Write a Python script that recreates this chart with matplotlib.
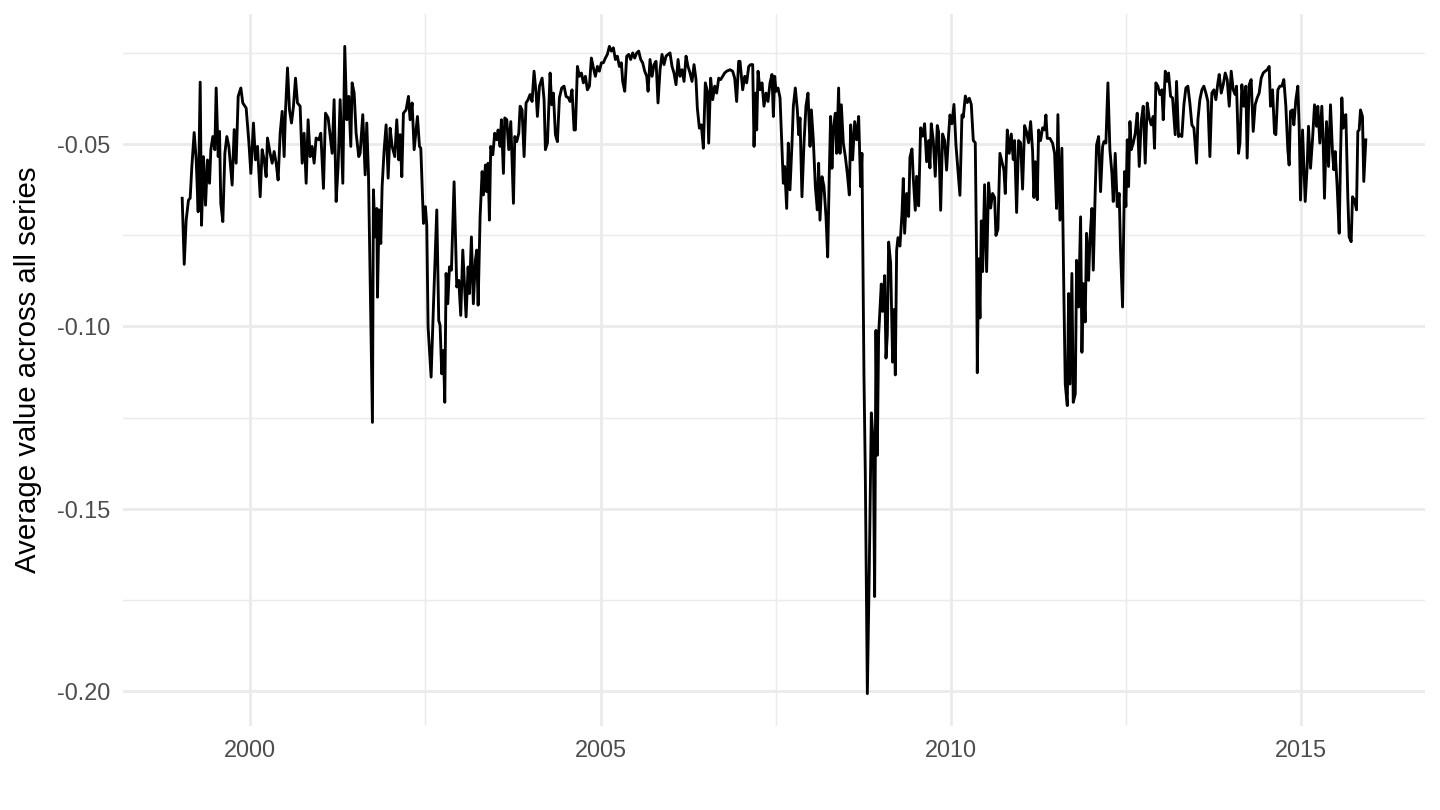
import matplotlib
matplotlib.use("Agg")
import matplotlib.pyplot as plt
from matplotlib.ticker import FixedLocator, FuncFormatter
import numpy as np

# decimal year of each observation
dates = [
    1999.030, 1999.059, 1999.087, 1999.120, 1999.144, 1999.168, 1999.201, 1999.230, 1999.258, 1999.287,
    1999.306, 1999.334, 1999.363, 1999.391, 1999.420, 1999.439, 1999.467, 1999.496, 1999.515, 1999.544,
    1999.563, 1999.581, 1999.610, 1999.639, 1999.667, 1999.696, 1999.743, 1999.772, 1999.800, 1999.829,
    1999.867, 1999.895, 1999.943, 1999.981, 2000.010, 2000.047, 2000.076, 2000.105, 2000.143, 2000.171,
    2000.200, 2000.228, 2000.247, 2000.285, 2000.314, 2000.342, 2000.371, 2000.399, 2000.428, 2000.457,
    2000.485, 2000.504, 2000.533, 2000.561, 2000.590, 2000.618, 2000.647, 2000.675, 2000.713, 2000.742,
    2000.770, 2000.799, 2000.827, 2000.856, 2000.884, 2000.913, 2000.941, 2000.979, 2001.008, 2001.046,
    2001.075, 2001.113, 2001.170, 2001.198, 2001.227, 2001.255, 2001.284, 2001.322, 2001.350, 2001.379,
    2001.407, 2001.436, 2001.455, 2001.484, 2001.512, 2001.550,
    2001.569, 2001.607, 2001.641, 2001.664, 2001.688, 2001.745, 2001.759, 2001.783, 2001.807, 2001.817,
    2001.840, 2001.864, 2001.883, 2001.912, 2001.940, 2001.969, 2001.997, 2002.026, 2002.064, 2002.092,
    2002.121, 2002.140, 2002.164, 2002.187, 2002.225, 2002.259, 2002.282, 2002.311, 2002.340, 2002.359,
    2002.387, 2002.416, 2002.435, 2002.473, 2002.501, 2002.520, 2002.539, 2002.582, 2002.615, 2002.663,
    2002.691, 2002.710, 2002.734, 2002.758, 2002.777, 2002.796, 2002.820, 2002.844, 2002.872, 2002.910,
    2002.948, 2002.977, 2003.005, 2003.034, 2003.081, 2003.110, 2003.129, 2003.157, 2003.185, 2003.214,
    2003.233, 2003.253, 2003.281, 2003.310, 2003.329, 2003.357, 2003.376, 2003.395, 2003.414, 2003.433,
    2003.462, 2003.490, 2003.519, 2003.538, 2003.566, 2003.585, 2003.614, 2003.633, 2003.662, 2003.690,
    2003.719, 2003.757, 2003.776, 2003.804, 2003.833, 2003.852, 2003.880, 2003.909, 2003.937, 2003.966,
    2003.994, 2004.023, 2004.051, 2004.080, 2004.099, 2004.128, 2004.166, 2004.194, 2004.213, 2004.242,
    2004.280,
    2004.303, 2004.327, 2004.356, 2004.384, 2004.413, 2004.446, 2004.479, 2004.508, 2004.541, 2004.565,
    2004.593, 2004.622, 2004.641, 2004.670, 2004.698, 2004.727, 2004.755, 2004.784, 2004.812, 2004.841,
    2004.869, 2004.898, 2004.926, 2004.955, 2004.983, 2005.012, 2005.040, 2005.069, 2005.097, 2005.126,
    2005.155, 2005.183, 2005.212, 2005.240, 2005.269, 2005.297, 2005.316, 2005.345, 2005.373, 2005.402,
    2005.430, 2005.459, 2005.487, 2005.516, 2005.544, 2005.573, 2005.601, 2005.630, 2005.659, 2005.678,
    2005.706, 2005.735, 2005.763, 2005.792, 2005.820, 2005.849, 2005.877, 2005.906, 2005.934, 2005.963,
    2005.991, 2006.020, 2006.048, 2006.077, 2006.106, 2006.134, 2006.163, 2006.191, 2006.220, 2006.248,
    2006.277, 2006.305, 2006.334, 2006.362, 2006.381, 2006.410, 2006.438, 2006.467, 2006.495, 2006.524,
    2006.543, 2006.571, 2006.600, 2006.629, 2006.657, 2006.686, 2006.714, 2006.743, 2006.771, 2006.800,
    2006.847, 2006.885, 2006.914, 2006.942, 2006.971,
    2006.990, 2007.028, 2007.057, 2007.085, 2007.114, 2007.142, 2007.171, 2007.190, 2007.209, 2007.228,
    2007.247, 2007.275, 2007.304, 2007.332, 2007.361, 2007.389, 2007.418, 2007.446, 2007.466, 2007.485,
    2007.504, 2007.532, 2007.561, 2007.589, 2007.608, 2007.627, 2007.656, 2007.679, 2007.703, 2007.732,
    2007.751, 2007.779, 2007.808, 2007.827, 2007.846, 2007.874, 2007.903, 2007.931, 2007.960, 2007.989,
    2008.008, 2008.036, 2008.065, 2008.093, 2008.112, 2008.131, 2008.160, 2008.188, 2008.217, 2008.241,
    2008.264, 2008.283, 2008.302, 2008.321, 2008.350, 2008.369, 2008.397, 2008.417, 2008.436, 2008.464,
    2008.493, 2008.521, 2008.550, 2008.569, 2008.597, 2008.626, 2008.654, 2008.683, 2008.711, 2008.730,
    2008.759, 2008.778, 2008.807, 2008.835, 2008.864, 2008.892, 2008.911, 2008.930, 2008.949, 2008.968,
    2008.987, 2009.006, 2009.025, 2009.054, 2009.073, 2009.092, 2009.111, 2009.139, 2009.168, 2009.187,
    2009.206, 2009.225, 2009.244, 2009.272, 2009.301, 2009.320, 2009.339, 2009.368, 2009.396, 2009.415,
    2009.444, 2009.463, 2009.491, 2009.510, 2009.539, 2009.567, 2009.596, 2009.624, 2009.653, 2009.681,
    2009.700, 2009.719, 2009.748, 2009.776, 2009.805, 2009.824, 2009.853, 2009.881, 2009.910, 2009.938,
    2009.967, 2009.986, 2010.014, 2010.043, 2010.071, 2010.100, 2010.128, 2010.157, 2010.176, 2010.205,
    2010.233, 2010.262, 2010.290, 2010.319, 2010.347, 2010.366, 2010.376, 2010.395, 2010.414, 2010.433,
    2010.452, 2010.480, 2010.509, 2010.537, 2010.566, 2010.594, 2010.623, 2010.642, 2010.670, 2010.699,
    2010.728, 2010.756, 2010.775, 2010.804, 2010.832, 2010.861, 2010.889, 2010.908, 2010.937, 2010.965,
    2010.994, 2011.022, 2011.051, 2011.080, 2011.108, 2011.137, 2011.165, 2011.184, 2011.203, 2011.232,
    2011.251, 2011.279, 2011.308, 2011.336, 2011.355, 2011.374, 2011.412,
    2011.450, 2011.479, 2011.507, 2011.526, 2011.555, 2011.583, 2011.612, 2011.631, 2011.660, 2011.679,
    2011.698, 2011.726, 2011.745, 2011.774, 2011.793, 2011.821, 2011.850, 2011.869, 2011.888, 2011.916,
    2011.935, 2011.964, 2011.983, 2012.011, 2012.031, 2012.059, 2012.078, 2012.107, 2012.135, 2012.164,
    2012.183, 2012.211, 2012.240, 2012.268, 2012.297, 2012.316, 2012.344, 2012.373, 2012.401, 2012.420,
    2012.449, 2012.477, 2012.496, 2012.516, 2012.535, 2012.554, 2012.573, 2012.601, 2012.630, 2012.658,
    2012.687, 2012.715, 2012.744, 2012.772, 2012.801, 2012.829, 2012.858, 2012.886, 2012.905, 2012.924,
    2012.953, 2012.982, 2013.010, 2013.029, 2013.058, 2013.086, 2013.105, 2013.134, 2013.162, 2013.200,
    2013.219, 2013.248, 2013.267, 2013.295, 2013.324, 2013.352, 2013.381, 2013.409, 2013.438, 2013.467,
    2013.505, 2013.524, 2013.552, 2013.581, 2013.609, 2013.638, 2013.666, 2013.695, 2013.723, 2013.752,
    2013.780, 2013.809, 2013.828, 2013.857, 2013.885, 2013.914, 2013.942, 2013.971, 2013.999, 2014.028,
    2014.056, 2014.075, 2014.104,
    2014.123, 2014.151, 2014.180, 2014.208, 2014.227, 2014.256, 2014.284, 2014.313, 2014.341, 2014.370,
    2014.398, 2014.427, 2014.456, 2014.484, 2014.513, 2014.541, 2014.560, 2014.589, 2014.617, 2014.636,
    2014.665, 2014.693, 2014.722, 2014.750, 2014.779, 2014.807, 2014.826, 2014.845, 2014.874, 2014.893,
    2014.922, 2014.950, 2014.969, 2014.988, 2015.017, 2015.055, 2015.083, 2015.102, 2015.131, 2015.159,
    2015.188, 2015.216, 2015.235, 2015.264, 2015.292, 2015.311, 2015.330, 2015.359, 2015.388, 2015.416,
    2015.445, 2015.464, 2015.483, 2015.511, 2015.540, 2015.559, 2015.578, 2015.597, 2015.616, 2015.635,
    2015.663, 2015.682, 2015.711, 2015.730, 2015.758, 2015.787, 2015.806, 2015.825, 2015.844, 2015.872,
    2015.891, 2015.920,
]

# average value across all series
values = [
    -0.0649, -0.0830, -0.0709, -0.0654, -0.0649, -0.0562, -0.0469, -0.0544, -0.0686, -0.0331,
    -0.0723, -0.0535, -0.0668, -0.0544, -0.0608, -0.0516, -0.0480, -0.0516, -0.0347, -0.0535,
    -0.0466, -0.0663, -0.0713, -0.0526, -0.0480, -0.0507, -0.0613, -0.0461, -0.0553, -0.0370,
    -0.0347, -0.0388, -0.0402, -0.0494, -0.0581, -0.0443, -0.0544, -0.0507, -0.0645, -0.0516,
    -0.0544, -0.0590, -0.0484, -0.0526, -0.0553, -0.0521, -0.0553, -0.0599, -0.0471, -0.0411,
    -0.0535, -0.0411, -0.0292, -0.0407, -0.0443, -0.0397, -0.0320, -0.0388, -0.0397, -0.0553,
    -0.0471, -0.0608, -0.0434, -0.0535, -0.0507, -0.0553, -0.0484, -0.0489, -0.0471, -0.0622,
    -0.0416, -0.0429, -0.0526, -0.0379, -0.0658, -0.0562, -0.0379, -0.0608, -0.0233, -0.0434,
    -0.0370, -0.0507, -0.0333, -0.0361, -0.0471, -0.0535,
    -0.0526, -0.0420, -0.0585, -0.0443, -0.0581, -0.1263, -0.0626, -0.0755, -0.0677, -0.0920,
    -0.0681, -0.0773, -0.0617, -0.0516, -0.0448, -0.0594, -0.0457, -0.0507, -0.0535, -0.0434,
    -0.0544, -0.0475, -0.0590, -0.0416, -0.0407, -0.0370, -0.0434, -0.0388, -0.0516, -0.0480,
    -0.0425, -0.0507, -0.0512, -0.0718, -0.0672, -0.0723, -0.1002, -0.1139, -0.0947, -0.0681,
    -0.0984, -0.0997, -0.1130, -0.1066, -0.1208, -0.0855, -0.0938, -0.0837, -0.0846, -0.0604,
    -0.0892, -0.0874, -0.0970, -0.0791, -0.0974, -0.0837, -0.0910, -0.0755, -0.0938, -0.0819,
    -0.0791, -0.0942, -0.0700, -0.0576, -0.0640, -0.0558, -0.0631, -0.0553, -0.0709, -0.0507,
    -0.0530, -0.0471, -0.0489, -0.0462, -0.0507, -0.0434, -0.0581, -0.0429, -0.0434, -0.0516,
    -0.0439, -0.0663, -0.0480, -0.0494, -0.0471, -0.0397, -0.0407, -0.0535, -0.0388, -0.0379,
    -0.0365, -0.0384, -0.0301, -0.0361, -0.0425, -0.0342, -0.0320, -0.0379, -0.0516, -0.0498,
    -0.0306,
    -0.0393, -0.0361, -0.0475, -0.0494, -0.0374, -0.0347, -0.0342, -0.0370, -0.0374, -0.0384,
    -0.0352, -0.0462, -0.0462, -0.0288, -0.0315, -0.0306, -0.0333, -0.0315, -0.0352, -0.0342,
    -0.0265, -0.0292, -0.0315, -0.0288, -0.0301, -0.0278, -0.0278, -0.0265, -0.0255, -0.0233,
    -0.0246, -0.0237, -0.0269, -0.0260, -0.0288, -0.0278, -0.0329, -0.0356, -0.0260, -0.0255,
    -0.0269, -0.0251, -0.0265, -0.0251, -0.0246, -0.0269, -0.0278, -0.0301, -0.0315, -0.0356,
    -0.0269, -0.0315, -0.0283, -0.0274, -0.0388, -0.0297, -0.0255, -0.0283, -0.0260, -0.0255,
    -0.0251, -0.0288, -0.0306, -0.0338, -0.0269, -0.0315, -0.0297, -0.0329, -0.0260, -0.0288,
    -0.0306, -0.0329, -0.0283, -0.0324, -0.0402, -0.0457, -0.0448, -0.0512, -0.0333, -0.0356,
    -0.0498, -0.0320, -0.0379, -0.0342, -0.0361, -0.0320, -0.0324, -0.0315, -0.0306, -0.0301,
    -0.0297, -0.0301, -0.0320, -0.0384, -0.0274,
    -0.0274, -0.0352, -0.0315, -0.0333, -0.0288, -0.0283, -0.0283, -0.0507, -0.0361, -0.0462,
    -0.0301, -0.0352, -0.0333, -0.0397, -0.0361, -0.0384, -0.0333, -0.0310, -0.0425, -0.0315,
    -0.0356, -0.0347, -0.0374, -0.0516, -0.0608, -0.0562, -0.0677, -0.0498, -0.0626, -0.0498,
    -0.0397, -0.0347, -0.0407, -0.0475, -0.0429, -0.0645, -0.0498, -0.0397, -0.0361, -0.0507,
    -0.0407, -0.0489, -0.0617, -0.0681, -0.0553, -0.0709, -0.0590, -0.0617, -0.0700, -0.0810,
    -0.0581, -0.0425, -0.0567, -0.0462, -0.0416, -0.0526, -0.0347, -0.0526, -0.0393, -0.0498,
    -0.0535, -0.0581, -0.0640, -0.0448, -0.0544, -0.0439, -0.0489, -0.0425, -0.0617, -0.0526,
    -0.1139, -0.1405, -0.2006, -0.1659, -0.1237, -0.1324, -0.1740, -0.1011, -0.1353, -0.1023,
    -0.0954, -0.0884, -0.0959, -0.0861, -0.1087, -0.1023, -0.0769, -0.0826, -0.1098, -0.0954,
    -0.1133, -0.0792, -0.0757, -0.0780, -0.0693, -0.0595, -0.0745, -0.0636, -0.0699, -0.0537,
    -0.0514, -0.0595, -0.0682, -0.0589, -0.0670, -0.0456, -0.0479, -0.0445, -0.0549, -0.0491,
    -0.0566, -0.0445, -0.0491, -0.0589, -0.0450, -0.0468, -0.0682, -0.0473, -0.0491, -0.0572,
    -0.0473, -0.0421, -0.0445, -0.0392, -0.0502, -0.0572, -0.0641, -0.0421, -0.0427, -0.0369,
    -0.0387, -0.0375, -0.0392, -0.0491, -0.0497, -0.0815, -0.1127, -0.0815, -0.0977, -0.0711,
    -0.0850, -0.0612, -0.0850, -0.0607, -0.0676, -0.0636, -0.0647, -0.0751, -0.0734, -0.0526,
    -0.0549, -0.0572, -0.0636, -0.0462, -0.0526, -0.0473, -0.0543, -0.0491, -0.0688, -0.0491,
    -0.0497, -0.0624, -0.0450, -0.0468, -0.0497, -0.0439, -0.0520, -0.0647, -0.0549, -0.0653,
    -0.0462, -0.0491, -0.0456, -0.0462, -0.0421, -0.0485, -0.0485,
    -0.0498, -0.0526, -0.0677, -0.0420, -0.0709, -0.0512, -0.0920, -0.1158, -0.1217, -0.0910,
    -0.1158, -0.0855, -0.1208, -0.1185, -0.0819, -0.0947, -0.0700, -0.1071, -0.0883, -0.0988,
    -0.0745, -0.0874, -0.0764, -0.0677, -0.0846, -0.0626, -0.0503, -0.0480, -0.0631, -0.0507,
    -0.0494, -0.0498, -0.0333, -0.0516, -0.0581, -0.0658, -0.0526, -0.0672, -0.0636, -0.0791,
    -0.0947, -0.0576, -0.0672, -0.0489, -0.0617, -0.0439, -0.0516, -0.0498, -0.0471, -0.0416,
    -0.0562, -0.0439, -0.0397, -0.0553, -0.0388, -0.0429, -0.0448, -0.0425, -0.0512, -0.0333,
    -0.0342, -0.0365, -0.0352, -0.0434, -0.0301, -0.0329, -0.0306, -0.0370, -0.0374, -0.0475,
    -0.0329, -0.0480, -0.0475, -0.0480, -0.0393, -0.0347, -0.0342, -0.0388, -0.0448, -0.0457,
    -0.0553, -0.0434, -0.0379, -0.0352, -0.0342, -0.0361, -0.0384, -0.0535, -0.0361, -0.0352,
    -0.0379, -0.0333, -0.0310, -0.0361, -0.0338, -0.0306, -0.0324, -0.0397, -0.0301, -0.0352,
    -0.0365, -0.0342, -0.0526,
    -0.0498, -0.0338, -0.0397, -0.0342, -0.0539, -0.0338, -0.0324, -0.0466, -0.0393, -0.0374,
    -0.0361, -0.0320, -0.0306, -0.0301, -0.0297, -0.0288, -0.0397, -0.0352, -0.0471, -0.0475,
    -0.0352, -0.0342, -0.0342, -0.0324, -0.0397, -0.0516, -0.0558, -0.0411, -0.0407, -0.0448,
    -0.0379, -0.0342, -0.0452, -0.0654, -0.0462, -0.0658, -0.0562, -0.0452, -0.0567, -0.0489,
    -0.0393, -0.0452, -0.0397, -0.0498, -0.0397, -0.0489, -0.0649, -0.0439, -0.0562, -0.0393,
    -0.0526, -0.0571, -0.0521, -0.0617, -0.0745, -0.0535, -0.0374, -0.0457, -0.0425, -0.0420,
    -0.0645, -0.0755, -0.0768, -0.0645, -0.0654, -0.0681, -0.0466, -0.0462, -0.0407, -0.0425,
    -0.0603, -0.0489,
]

x_breaks = [2000, 2005, 2010, 2015]
y_breaks = [-0.20, -0.15, -0.10, -0.05]

plt.rcParams['font.family'] = ['Liberation Sans', 'DejaVu Sans']
plt.rcParams['axes.unicode_minus'] = False

fig = plt.figure(figsize=(7.5, 4.21875), dpi=192)
ax = fig.add_axes([123 / 1440, 84 / 810, 1302 / 1440, 712 / 810])

ax.plot(dates, values, color='black', linewidth=1.07, solid_joinstyle='round', zorder=3)
ax.margins(x=0.05, y=0.05)

# ggplot-like minimal theme
ax.xaxis.set_major_locator(FixedLocator(x_breaks))
ax.xaxis.set_minor_locator(FixedLocator([b + 2.5 for b in [1995] + x_breaks]))
ax.yaxis.set_major_locator(FixedLocator(y_breaks))
ax.yaxis.set_minor_locator(FixedLocator([b + 0.025 for b in [-0.25] + y_breaks]))
ax.xaxis.set_major_formatter(FuncFormatter(lambda v, p: f"{v:.0f}"))
ax.yaxis.set_major_formatter(FuncFormatter(lambda v, p: f"{v:.2f}"))

ax.grid(which='major', color='#EBEBEB', linewidth=1.07)
ax.grid(which='minor', color='#EBEBEB', linewidth=0.53)
ax.set_axisbelow(True)
for s in ax.spines.values():
    s.set_visible(False)
ax.tick_params(which='both', length=0, labelsize=8.8, labelcolor='#4D4D4D', pad=4.95)

ax.set_ylabel('Average value across all series', fontsize=11, color='black')
ax.yaxis.label.set_va('center')
ax.yaxis.set_label_coords(-95 / 1302, 0.5)

fig.savefig('out.png', dpi=192, facecolor='white')
